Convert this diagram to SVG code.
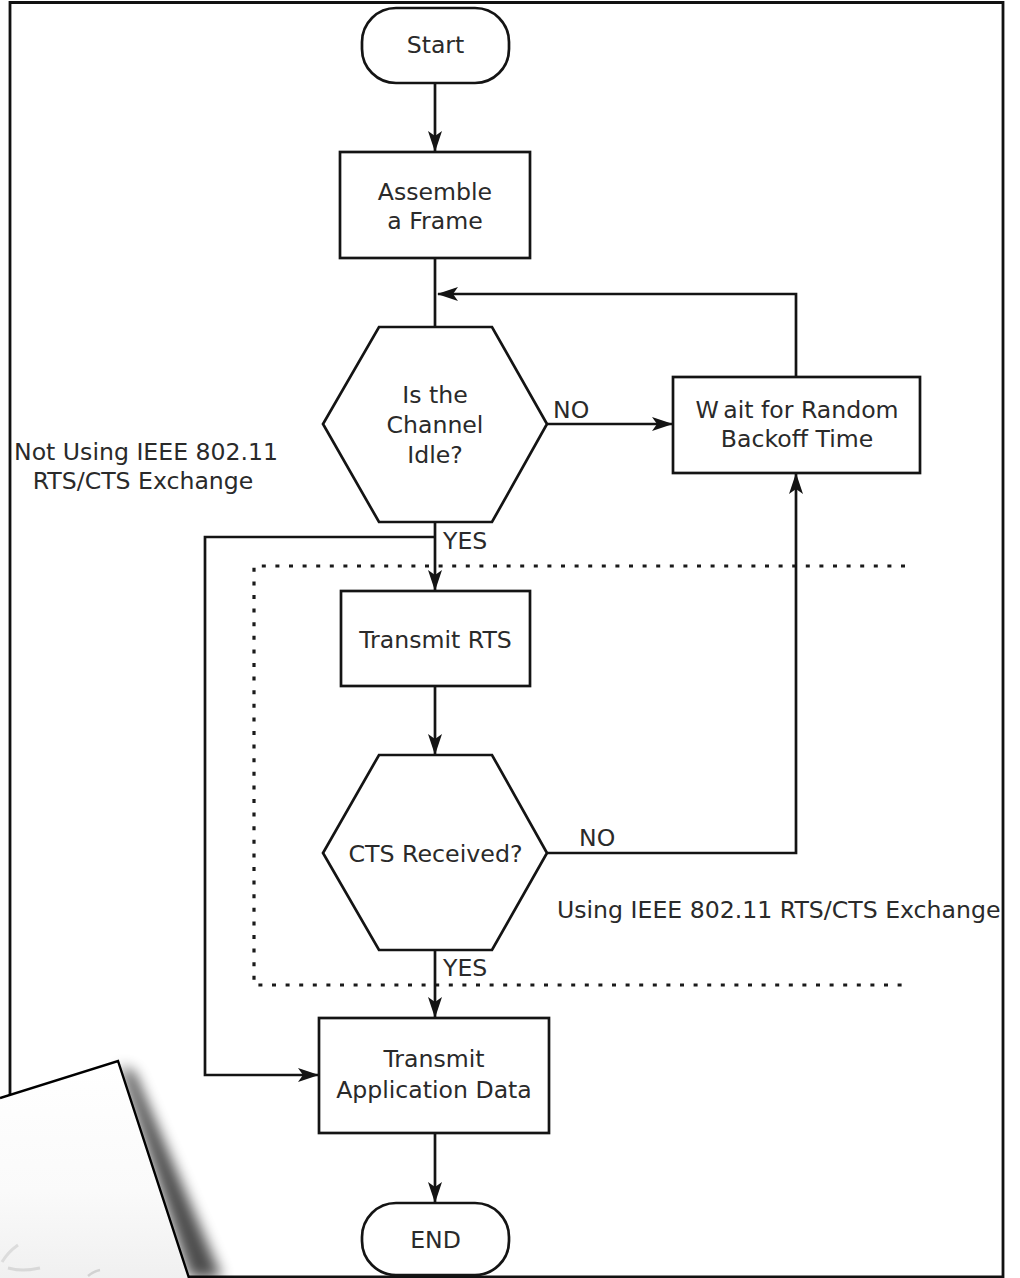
<svg xmlns="http://www.w3.org/2000/svg" width="1020" height="1278" viewBox="0 0 1020 1278">
  <style>
    .shape { fill: #ffffff; stroke: #141414; stroke-width: 2.7; }
    .wire { fill: none; stroke: #141414; stroke-width: 2.7; }
    .arrow { marker-end: url(#head); }
    .lbl { font-family: "DejaVu Sans", Verdana, sans-serif; font-size: 23.6px; fill: #2a2a2a; }
    .mid { text-anchor: middle; }
    .dots { fill: none; stroke: #1a1a1a; stroke-width: 3.2; stroke-dasharray: 4 9.6; }
  </style>
  <defs>
    <marker id="head" markerUnits="userSpaceOnUse" markerWidth="24" markerHeight="18" viewBox="-22 -9 24 18" refX="0" refY="0" orient="auto" overflow="visible">
      <path d="M1,0 L-20,-7 L-15,0 L-20,7 Z" fill="#141414"/>
    </marker>
    <linearGradient id="sheet" x1="0" y1="0" x2="0" y2="1">
      <stop offset="0" stop-color="#ffffff"/>
      <stop offset="0.6" stop-color="#fafafa"/>
      <stop offset="1" stop-color="#f0f0f0"/>
    </linearGradient>
    <filter id="soft" x="-50%" y="-20%" width="200%" height="140%">
      <feGaussianBlur stdDeviation="7"/>
    </filter>
    <linearGradient id="fadeTop" x1="253" y1="0" x2="905" y2="0" gradientUnits="userSpaceOnUse">
      <stop offset="0.85" stop-color="#1a1a1a"/>
      <stop offset="1" stop-color="#1a1a1a" stop-opacity="0.35"/>
    </linearGradient>
  </defs>

  <rect width="1020" height="1278" fill="#ffffff"/>

  <!-- page border -->
  <path d="M10,1100 V2.5 H1003 V1277 H186" fill="none" stroke="#111" stroke-width="2.8"/>

  <!-- dotted boundary of the RTS/CTS region -->
  <path class="dots" d="M905,566 H254 V985 H905" stroke="url(#fadeTop)"/>

  <!-- connectors -->
  <g id="connectors">
    <path class="wire arrow" d="M435,83 V151"/>
    <path class="wire" d="M435,258 V327"/>
    <path class="wire arrow" d="M547,424 H672"/>
    <path class="wire arrow" d="M796,377 V294 H438"/>
    <path class="wire arrow" d="M435,522 V590"/>
    <path class="wire arrow" d="M435,537 H205 V1075 H318"/>
    <path class="wire arrow" d="M435,686 V754"/>
    <path class="wire arrow" d="M547,853 H796 V474"/>
    <path class="wire arrow" d="M435,950 V1017"/>
    <path class="wire arrow" d="M435,1133 V1202"/>
    <text class="lbl" x="553" y="418">NO</text>
    <text class="lbl" x="443" y="549">YES</text>
    <text class="lbl" x="579" y="846">NO</text>
    <text class="lbl" x="443" y="976">YES</text>
  </g>

  <g id="start">
    <rect class="shape" x="362" y="8" width="147" height="75" rx="34" ry="34"/>
    <text class="lbl mid" x="435.5" y="53">Start</text>
  </g>

  <g id="assemble">
    <rect class="shape" x="340" y="152" width="190" height="106"/>
    <text class="lbl mid" x="435" y="200">Assemble</text>
    <text class="lbl mid" x="435" y="229">a Frame</text>
  </g>

  <g id="channel-idle">
    <polygon class="shape" points="379,327 492,327 547,424 492,522 379,522 323,424"/>
    <text class="lbl mid" x="435" y="403">Is the</text>
    <text class="lbl mid" x="435" y="433">Channel</text>
    <text class="lbl mid" x="435" y="463">Idle?</text>
  </g>

  <g id="backoff">
    <rect class="shape" x="673" y="377" width="247" height="96"/>
    <text class="lbl mid" x="797" y="418">W<tspan dx="6">ait for Random</tspan></text>
    <text class="lbl mid" x="797" y="447">Backoff Time</text>
  </g>

  <g id="transmit-rts">
    <rect class="shape" x="341" y="591" width="189" height="95"/>
    <text class="lbl mid" x="435.5" y="648">Transmit RTS</text>
  </g>

  <g id="cts-received">
    <polygon class="shape" points="379,755 492,755 547,853 492,950 379,950 323,853"/>
    <text class="lbl mid" x="435.5" y="862" textLength="174" lengthAdjust="spacingAndGlyphs">CTS Received?</text>
  </g>

  <g id="transmit-data">
    <rect class="shape" x="319" y="1018" width="230" height="115"/>
    <text class="lbl mid" x="434" y="1067">Transmit</text>
    <text class="lbl mid" x="434" y="1098">Application Data</text>
  </g>

  <g id="end">
    <rect class="shape" x="362" y="1203" width="147" height="72" rx="34" ry="34"/>
    <text class="lbl mid" x="435.5" y="1248">END</text>
  </g>

  <!-- region captions -->
  <text class="lbl" x="14" y="460">Not Using IEEE 802.11</text>
  <text class="lbl mid" x="143" y="489">RTS/CTS Exchange</text>
  <text class="lbl" x="557" y="918">Using IEEE 802.11 RTS/CTS Exchange</text>

  <!-- curled sheet in the lower-left corner -->
  <g id="sheet-corner">
    <polygon points="120,1066 190,1278 222,1278 134,1072" fill="#000" opacity="0.7" filter="url(#soft)"/>
    <polygon points="0,1098 118,1061 189,1278 0,1278" fill="url(#sheet)"/>
    <path d="M0,1098 L118,1061 L189,1278" fill="none" stroke="#000" stroke-width="2.4"/>
    <path d="M2,1262 Q8,1252 18,1245" fill="none" stroke="#dcdcdc" stroke-width="3"/>
    <path d="M8,1268 Q22,1272 40,1268" fill="none" stroke="#d8d8d8" stroke-width="3"/>
    <path d="M88,1276 Q94,1271 100,1270" fill="none" stroke="#d2d2d2" stroke-width="2.5"/>
  </g>
</svg>
